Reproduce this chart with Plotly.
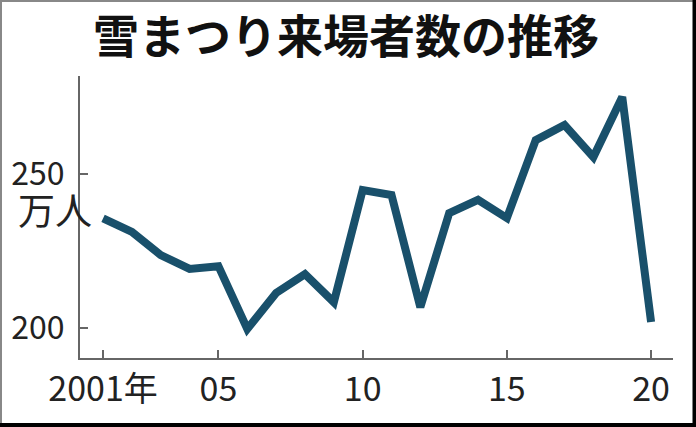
import plotly.graph_objects as go

years = list(range(2001, 2021))
visitors = [235.6, 231.2, 223.7, 219.2, 220.1, 199.7, 211.4, 217.5, 208.4, 244.8,
            243.2, 206.8, 237.3, 241.6, 235.7, 261.0, 265.9, 255.5, 275.0, 202.0]
x_tick_vals = [2001, 2005, 2010, 2015, 2020]
x_tick_text = ["2001年", "05", "10", "15", "20"]
y_tick_vals = [200, 250]
y_tick_text = ["200", "250"]
title_text = "雪まつり来場者数の推移"
unit_text = "万人"

W, H = 696, 427
L, R, T, B = 80, 23, 76, 69
pw, ph = W - L - R, H - T - B

def px(x):
    return (x - L) / pw

def py(y):
    return (H - B - y) / ph

num_font = "Noto Sans CJK JP, sans-serif"
cjk_font = "Noto Sans CJK JP, sans-serif"

fig = go.Figure()
fig.add_trace(go.Scatter(
    x=years, y=visitors, mode="lines",
    line=dict(color="#19506b", width=8, shape="linear"),
    hoverinfo="skip", showlegend=False,
))

fig.update_layout(
    width=W, height=H,
    margin=dict(l=L, r=R, t=T, b=B, pad=0),
    paper_bgcolor="white", plot_bgcolor="white",
    showlegend=False,
    xaxis=dict(
        range=[2000.2, 2020.76], tickmode="array", tickvals=x_tick_vals, ticktext=x_tick_text,
        showgrid=False, zeroline=False, showline=True, linecolor="#666", linewidth=2,
        ticks="inside", ticklen=8, tickwidth=2, tickcolor="#666",
        tickfont=dict(family=num_font, size=34, color="#222"),
        ticklabelstandoff=0, automargin=False,
    ),
    yaxis=dict(
        range=[190.3, 281.8], tickmode="array", tickvals=y_tick_vals, ticktext=y_tick_text,
        showgrid=False, zeroline=False, showline=True, linecolor="#666", linewidth=2,
        ticks="inside", ticklen=8, tickwidth=2, tickcolor="#666",
        tickfont=dict(family=num_font, size=32, color="#222"),
        ticklabelstandoff=7, automargin=False,
    ),
)

fig.add_annotation(
    text=title_text, xref="paper", yref="paper", x=px(346), y=py(33),
    xanchor="center", yanchor="middle", showarrow=False,
    font=dict(family=cjk_font, size=46, color="#111", weight="bold"),
)
fig.add_annotation(
    text=unit_text, xref="paper", yref="paper", x=px(94), y=py(209),
    xanchor="right", yanchor="middle", showarrow=False,
    font=dict(family=cjk_font, size=37, color="#222"),
)

# frame
fig.add_shape(type="rect", xref="paper", yref="paper",
              x0=px(1), x1=px(694), y0=py(424), y1=py(1),
              line=dict(color="#888", width=2), layer="above")
fig.add_shape(type="line", xref="paper", yref="paper",
              x0=px(694.5), x1=px(694.5), y0=py(0), y1=py(427),
              line=dict(color="#000", width=4), layer="above")
fig.add_shape(type="line", xref="paper", yref="paper",
              x0=px(0), x1=px(696), y0=py(425), y1=py(425),
              line=dict(color="#000", width=4), layer="above")

fig.write_html("out.html",
               config={"displayModeBar": False, "staticPlot": True},
               post_script="document.body.style.margin='0';document.body.style.padding='0';document.body.style.overflow='hidden';")
